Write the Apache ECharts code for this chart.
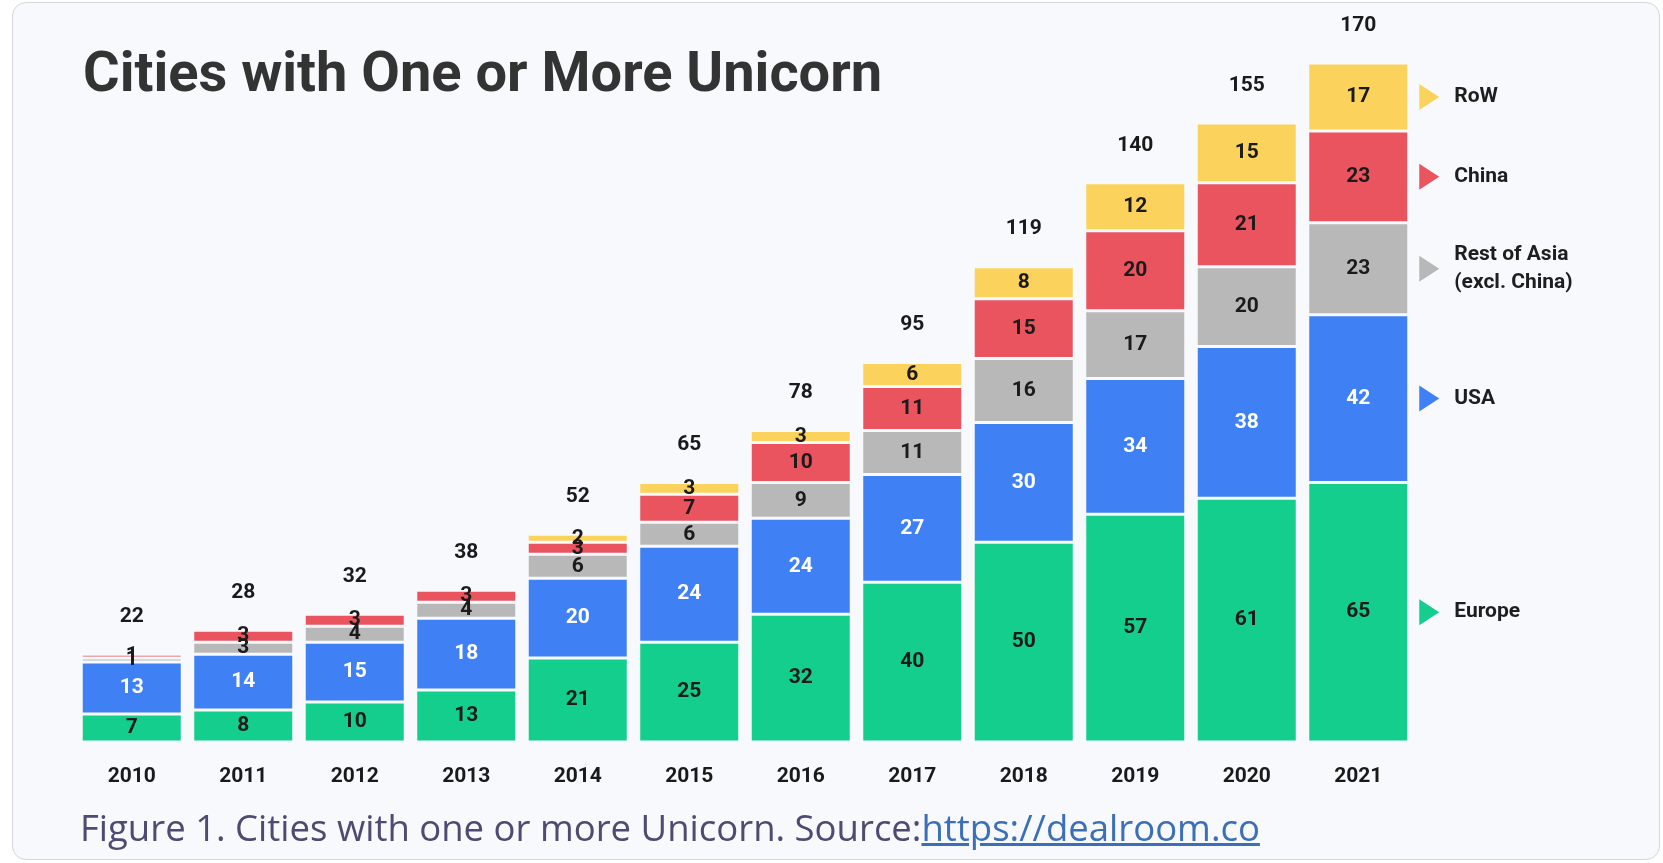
<!DOCTYPE html>
<html>
<head>
<meta charset="utf-8">
<script src="https://cdn.jsdelivr.net/npm/echarts@6/dist/echarts.min.js"></script>
<style>
  html, body { margin: 0; padding: 0; background: #ffffff; }
  .card {
    position: absolute; left: 12px; top: 2px; width: 1646px; height: 856px;
    background: #f8f9fd; border: 1.5px solid #d6d6da; border-radius: 14px;
  }
  #chart { position: absolute; left: 0; top: 0; width: 1663px; height: 863px; }
  .caption {
    position: absolute; left: 80px; top: 804px;
    font-family: 'Open Sans', sans-serif; font-size: 36.5px; line-height: 46px;
    color: #4f4a72; white-space: nowrap;
  }
  .caption a { color: #3b6fb6; text-decoration: underline; }
</style>
</head>
<body>
<div class="card"></div>
<div id="chart"></div>
<div class="caption">Figure 1. Cities with one or more Unicorn. Source:<a href="#">https://dealroom.co</a></div>
<script>
// data
const years = ['2010', '2011', '2012', '2013', '2014', '2015', '2016', '2017', '2018', '2019', '2020', '2021']
const europe = [7, 8, 10, 13, 21, 25, 32, 40, 50, 57, 61, 65]
const usa = [13, 14, 15, 18, 20, 24, 24, 27, 30, 34, 38, 42]
const restOfAsia = [1, 3, 4, 4, 6, 6, 9, 11, 16, 17, 20, 23]
const china = [1, 3, 3, 3, 3, 7, 10, 11, 15, 20, 21, 23]
const row = [0, 0, 0, 0, 2, 3, 3, 6, 8, 12, 15, 17]
const totals = [22, 28, 32, 38, 52, 65, 78, 95, 119, 140, 155, 170]

const seriesDefs = [
  { name: 'Europe', data: europe, color: '#14ce8e', text: '#1b1b1b', legend: 'Europe' },
  { name: 'USA', data: usa, color: '#3f80f5', text: '#ffffff', legend: 'USA' },
  { name: 'Rest of Asia', data: restOfAsia, color: '#b8b8b8', text: '#1b1b1b', legend: 'Rest of Asia\n(excl. China)' },
  { name: 'China', data: china, color: '#e9545f', text: '#1b1b1b', legend: 'China' },
  { name: 'RoW', data: row, color: '#fbd35c', text: '#1b1b1b', legend: 'RoW' }
]

const labelFont = 'Roboto, "DejaVu Sans", sans-serif'

const chart = echarts.init(document.getElementById('chart'))

const series = seriesDefs.map(s => ({
  name: s.name,
  type: 'bar',
  stack: 'all',
  barWidth: 101,
  data: s.data,
  itemStyle: { color: s.color, borderColor: '#f8f9fd', borderWidth: 1.5 },
  label: {
    show: true,
    position: 'inside',
    color: s.text,
    fontFamily: labelFont,
    fontWeight: 'bold',
    fontSize: 21,
    formatter: p => (p.value > 0 ? p.value : '')
  },
  emphasis: { disabled: true }
}))

// totals above each bar
series.push({
  name: 'Total',
  type: 'scatter',
  data: totals,
  symbolSize: 0,
  z: 5,
  itemStyle: { opacity: 1 },
  label: {
    show: true,
    position: 'top',
    distance: 27,
    color: '#1a1a1a',
    fontFamily: labelFont,
    fontWeight: 'bold',
    fontSize: 21
  },
  emphasis: { disabled: true }
})

chart.setOption({
  animation: false,
  title: {
    text: 'Cities with One or More Unicorn',
    left: 78,
    top: 44,
    textStyle: {
      fontFamily: 'Roboto, sans-serif',
      fontWeight: 'bold',
      fontSize: 56,
      color: '#333333'
    }
  },
  grid: { left: 76, right: 249, top: 63, bottom: 121 },
  xAxis: {
    type: 'category',
    data: years,
    axisLine: { show: false },
    axisTick: { show: false },
    axisLabel: {
      margin: 24,
      color: '#1a1a1a',
      fontFamily: labelFont,
      fontWeight: 'bold',
      fontSize: 21
    }
  },
  yAxis: {
    type: 'value',
    min: 0,
    max: 170,
    show: false,
    splitLine: { show: false }
  },
  series
})

// side legend: triangle + name next to the middle of each 2021 segment
const last = years.length - 1
const barX = chart.convertToPixel({ xAxisIndex: 0 }, years[last])
let base = 0
const graphics = []
seriesDefs.forEach(s => {
  const v = s.data[last]
  const y = chart.convertToPixel({ yAxisIndex: 0 }, base + v / 2)
  base += v
  graphics.push({
    type: 'polygon',
    shape: { points: [[barX + 61, y - 13], [barX + 81, y], [barX + 61, y + 13]] },
    style: { fill: s.color }
  })
  graphics.push({
    type: 'text',
    x: barX + 96,
    y: y,
    style: {
      text: s.legend,
      fill: '#1e1e1e',
      font: 'bold 21px ' + labelFont,
      verticalAlign: 'middle',
      lineHeight: 28
    }
  })
})
chart.setOption({ graphic: graphics })
</script>
</body>
</html>
